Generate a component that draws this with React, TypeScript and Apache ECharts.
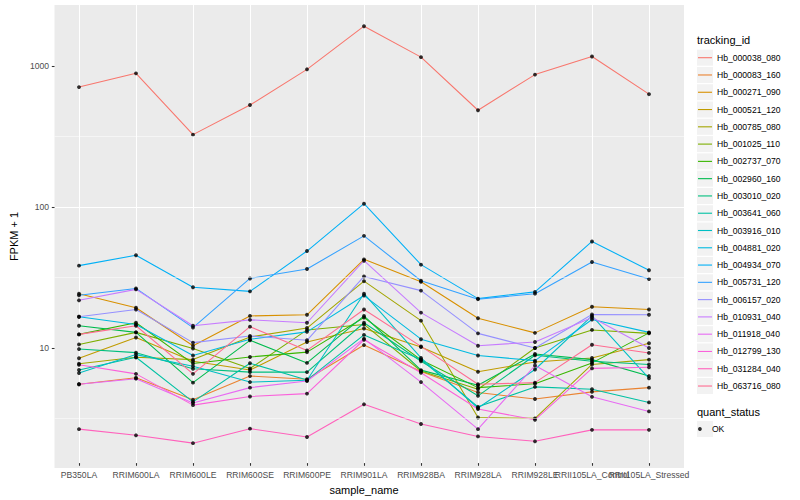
import React, { useEffect, useRef } from "react";
import * as echarts from "echarts";

const categories = [
  "PB350LA", "RRIM600LA", "RRIM600LE", "RRIM600SE", "RRIM600PE", "RRIM901LA",
  "RRIM928BA", "RRIM928LA", "RRIM928LE", "RRII105LA_Control", "RRII105LA_Stressed",
];

const trackingIds = [
  "Hb_000038_080", "Hb_000083_160", "Hb_000271_090", "Hb_000521_120", "Hb_000785_080",
  "Hb_001025_110", "Hb_002737_070", "Hb_002960_160", "Hb_003010_020", "Hb_003641_060",
  "Hb_003916_010", "Hb_004881_020", "Hb_004934_070", "Hb_005731_120", "Hb_006157_020",
  "Hb_010931_040", "Hb_011918_040", "Hb_012799_130", "Hb_031284_040", "Hb_063716_080",
];

const lineColors = [
  "#F8766D", "#EA8331", "#D89000", "#C09B00", "#A3A500",
  "#7CAE00", "#39B600", "#00BB4E", "#00BF7D", "#00C1A3",
  "#00BFC4", "#00BAE0", "#00B0F6", "#35A2FF", "#9590FF",
  "#C77CFF", "#E76BF3", "#FA62DB", "#FF62BC", "#FF6C91",
];

const hb000038_080 = [699, 877, 319, 520, 937, 1910, 1146, 477, 859, 1158, 622];
const hb000083_160 = [5.18, 5.77, 4.01, 5.93, 5.63, 9.89, 6.4, 4.52, 4.06, 4.57, 4.9];
const hb000271_090 = [23.1, 18.3, 9.79, 16.0, 16.3, 40.7, 28.1, 15.4, 12.1, 18.6, 17.8];
const hb000521_120 = [7.96, 11.2, 7.57, 6.55, 10.4, 13.0, 9.57, 6.37, 7.48, 8.0, 10.2];
const hb000785_080 = [7.26, 8.09, 7.78, 11.3, 13.1, 28.4, 14.8, 2.99, 2.95, 7.18, 7.78];
const hb001025_110 = [10.0, 12.2, 9.35, 6.72, 12.7, 13.9, 6.45, 4.77, 9.42, 12.7, 12.0];
const hb002737_070 = [11.8, 14.3, 7.29, 8.13, 8.8, 15.6, 7.74, 4.9, 5.23, 7.37, 12.1];
const hb002960_160 = [13.6, 12.2, 5.32, 10.7, 7.37, 16.0, 6.54, 5.1, 8.54, 7.78, 5.93];
const hb003010_020 = [9.26, 8.73, 6.69, 6.33, 6.33, 14.3, 7.57, 4.28, 8.36, 7.57, 7.18];
const hb003641_060 = [6.55, 8.09, 3.87, 7.33, 5.55, 11.7, 7.8, 3.57, 4.96, 4.77, 3.84];
const hb003916_010 = [6.23, 8.45, 6.98, 5.37, 5.53, 23.1, 8.0, 3.5, 6.61, 16.0, 5.71];
const hb004881_020 = [15.8, 13.9, 8.32, 10.9, 12.3, 22.4, 10.9, 8.32, 7.65, 15.1, 12.2];
const hb004934_070 = [36.7, 43.6, 25.7, 24.0, 46.7, 102, 37.3, 21.3, 23.8, 54.7, 34.0];
const hb005731_120 = [22.5, 25.2, 13.2, 29.7, 34.7, 60, 28.6, 21.1, 23.1, 39.0, 29.4];
const hb006157_020 = [15.8, 17.8, 10.3, 11.5, 10.7, 30.7, 24.3, 12.0, 9.42, 16.4, 16.3];
const hb010931_040 = [20.7, 24.8, 13.6, 15.0, 14.3, 39.8, 16.9, 9.79, 10.4, 15.6, 9.42];
const hb011918_040 = [5.18, 5.68, 3.8, 4.9, 5.47, 11.0, 5.37, 2.47, 7.06, 4.21, 3.31];
const hb012799_130 = [7.14, 6.15, 3.67, 4.23, 4.44, 10.8, 6.26, 3.44, 2.88, 6.73, 6.85];
const hb031284_040 = [2.47, 2.23, 1.96, 2.49, 2.17, 3.72, 2.69, 2.19, 2.02, 2.44, 2.44];
const hb063716_080 = [11.8, 13.6, 6.15, 13.4, 9.06, 17.8, 9.68, 5.18, 5.32, 9.95, 8.69];

const seriesValues = [
  hb000038_080, hb000083_160, hb000271_090, hb000521_120, hb000785_080,
  hb001025_110, hb002737_070, hb002960_160, hb003010_020, hb003641_060,
  hb003916_010, hb004881_020, hb004934_070, hb005731_120, hb006157_020,
  hb010931_040, hb011918_040, hb012799_130, hb031284_040, hb063716_080,
];

const yTickValues = [10, 100, 1000];
const yMinorBreaks = [3.162, 31.62, 316.2];
const yMin = 1.41;
const yMax = 2710;

const FONT = "'Liberation Sans', Arial, Helvetica, sans-serif";

export default function App() {
  const ref = useRef<HTMLDivElement>(null);

  useEffect(() => {
    if (!ref.current) return;
    const chart = echarts.init(ref.current, undefined, { renderer: "svg" });

    const panelLeft = 45, panelTop = 5, panelW = 639, panelH = 463;
    const dataLeft = 79, dataW = 570;

    const lineSeries = seriesValues.map((vals, k) => ({
      type: "line",
      name: trackingIds[k],
      xAxisIndex: 1,
      yAxisIndex: 1,
      data: vals,
      symbol: "none",
      showSymbol: false,
      color: lineColors[k],
      lineStyle: { width: 1.07, color: lineColors[k] },
      itemStyle: { color: lineColors[k] },
      z: 2,
      silent: true,
    }));

    const pointData: number[][] = [];
    seriesValues.forEach((vals) => vals.forEach((v, i) => pointData.push([i, v])));

    const keyStep = 17.28;
    const keyTop = 49.06;
    const keyRects: any[] = trackingIds.map((_, i) => ({
      type: "rect",
      shape: { x: 697, y: keyTop + i * keyStep + 0.64, width: 16, height: 16 },
      style: { fill: "#F2F2F2" },
      z: -1,
    }));
    keyRects.push({
      type: "rect",
      shape: { x: 697, y: 420.36 + 0.64, width: 16, height: 16 },
      style: { fill: "#F2F2F2" },
      z: -1,
    });

    const option: any = {
      animation: false,
      backgroundColor: "#FFFFFF",
      textStyle: { fontFamily: FONT },
      grid: [
        {
          left: panelLeft, top: panelTop, width: panelW, height: panelH,
          show: true, backgroundColor: "#EBEBEB", borderWidth: 0, containLabel: false,
        },
        {
          left: dataLeft, top: panelTop, width: dataW, height: panelH,
          show: false, containLabel: false,
        },
      ],
      xAxis: [
        { type: "value", gridIndex: 0, min: 0, max: 1, show: false },
        {
          type: "category",
          gridIndex: 1,
          data: categories,
          boundaryGap: false,
          name: "sample_name",
          nameLocation: "middle",
          nameGap: 12,
          nameTextStyle: { fontSize: 11, color: "#000000", fontFamily: FONT },
          axisLine: { show: false },
          axisTick: { show: true, length: 2.7, lineStyle: { color: "#333333", width: 1.07 } },
          axisLabel: {
            interval: 0, hideOverlap: false, color: "#4D4D4D", fontSize: 8.6,
            margin: 7, fontFamily: FONT,
          },
          splitLine: { show: true, lineStyle: { color: "#FFFFFF", width: 1.07 } },
        },
      ],
      yAxis: [
        {
          type: "log",
          logBase: 10,
          gridIndex: 0,
          min: yMin,
          max: yMax,
          name: "FPKM + 1",
          nameLocation: "middle",
          nameRotate: 90,
          nameGap: 28,
          nameTextStyle: { fontSize: 11, color: "#000000", fontFamily: FONT },
          axisLine: { show: false },
          axisTick: {
            show: true, length: 2.7, customValues: yTickValues,
            lineStyle: { color: "#333333", width: 1.07 },
          },
          axisLabel: {
            color: "#4D4D4D", fontSize: 8.6, margin: 5.5, fontFamily: FONT,
            showMinLabel: false, showMaxLabel: false,
            formatter: (v: number) => String(v),
          },
          splitLine: {
            show: true, showMinLine: false, showMaxLine: false,
            lineStyle: { color: "#FFFFFF", width: 1.07 },
          },
        },
        {
          type: "log",
          logBase: 10,
          gridIndex: 1,
          min: yMin,
          max: yMax,
          show: false,
          splitLine: { show: false },
        },
      ],
      legend: [
        {
          data: trackingIds,
          orient: "vertical",
          left: 698,
          top: keyTop,
          padding: 0,
          itemGap: 0,
          itemWidth: 14,
          itemHeight: 1.1,
          icon: "rect",
          selectedMode: false,
          itemStyle: { borderWidth: 0 },
          textStyle: { fontSize: 8.6, color: "#000000", fontFamily: FONT, lineHeight: keyStep },
        },
        {
          data: ["OK"],
          orient: "vertical",
          left: 698,
          top: 420.36,
          padding: 0,
          itemGap: 0,
          itemWidth: 14,
          itemHeight: 3.8,
          icon: "circle",
          selectedMode: false,
          itemStyle: { borderWidth: 0 },
          textStyle: { fontSize: 8.6, color: "#000000", fontFamily: FONT, lineHeight: keyStep },
        },
      ],
      graphic: [
        ...keyRects,
        {
          type: "text", left: 697, top: 34,
          style: { text: "tracking_id", fontSize: 11, fill: "#000000", fontFamily: FONT },
        },
        {
          type: "text", left: 697, top: 406,
          style: { text: "quant_status", fontSize: 11, fill: "#000000", fontFamily: FONT },
        },
      ],
      series: [
        {
          type: "line",
          name: "minorGrid",
          xAxisIndex: 0,
          yAxisIndex: 0,
          data: [[0, 10]],
          symbol: "none",
          showSymbol: false,
          lineStyle: { opacity: 0 },
          silent: true,
          z: 1,
          markLine: {
            silent: true,
            symbol: "none",
            label: { show: false },
            lineStyle: { color: "#FFFFFF", width: 0.53, type: "solid" },
            data: yMinorBreaks.map((v) => ({ yAxis: v })),
          },
        },
        ...lineSeries,
        {
          type: "scatter",
          name: "OK",
          xAxisIndex: 1,
          yAxisIndex: 1,
          data: pointData,
          symbol: "circle",
          symbolSize: 3.9,
          itemStyle: { color: "#000000" },
          silent: true,
          z: 3,
        },
      ],
    };

    chart.setOption(option);
    return () => chart.dispose();
  }, []);

  return (
    <div
      ref={ref}
      style={{ position: "fixed", left: 0, top: 0, width: 800, height: 500 }}
    />
  );
}
